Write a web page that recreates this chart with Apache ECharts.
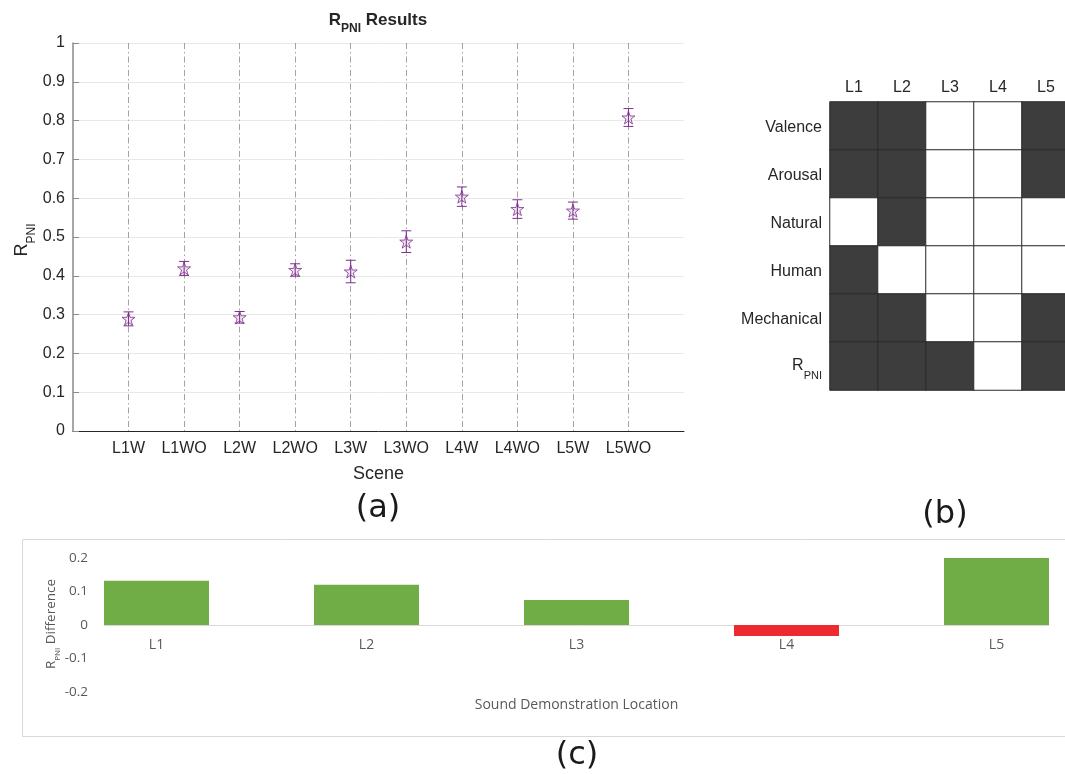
<!DOCTYPE html>
<html>
<head>
<meta charset="utf-8">
<script src="https://cdn.jsdelivr.net/npm/echarts@6/dist/echarts.min.js"></script>
<style>html,body{margin:0;padding:0;background:#fff}#chart{width:1065px;height:774px}</style>
</head>
<body>
<div id="chart"></div>
<script>
// ---- data (a) ----
const scenes = ['L1W','L1WO','L2W','L2WO','L3W','L3WO','L4W','L4WO','L5W','L5WO'];
const rpniMean = [0.289, 0.419, 0.293, 0.415, 0.411, 0.488, 0.604, 0.572, 0.568, 0.808];
const rpniErr  = [0.018, 0.018, 0.015, 0.016, 0.029, 0.028, 0.025, 0.024, 0.022, 0.023];
// ---- data (b) ----
const locations = ['L1','L2','L3','L4','L5'];
const attributes = ['Valence','Arousal','Natural','Human','Mechanical','RPNI'];
const valenceRow    = [1,1,0,0,1];
const arousalRow    = [1,1,0,0,1];
const naturalRow    = [0,1,0,0,0];
const humanRow      = [1,0,0,0,0];
const mechanicalRow = [1,1,0,0,1];
const rpniRow       = [1,1,1,0,1];
// ---- data (c) ----
const rpniDiff = [0.132, 0.12, 0.075, -0.033, 0.2];

const PURPLE = '#7E2F8E';
const FA = 'Liberation Sans';
const FC = 'Open Sans';
const STAR = 'path://M50,2 L61.2,36.5 L97.5,36.5 L68.2,57.9 L79.4,92.4 L50,71 L20.6,92.4 L31.8,57.9 L2.5,36.5 L38.8,36.5 Z';

const matrixRows = [valenceRow, arousalRow, naturalRow, humanRow, mechanicalRow, rpniRow];
const heatData = [];
matrixRows.forEach((row, r) => row.forEach((v, c) => heatData.push([c, r, v])));

const chart = echarts.init(document.getElementById('chart'), null, {renderer: 'canvas'});

const option = {
  backgroundColor: '#ffffff',
  animation: false,
  grid: [
    {left: 73, top: 43, width: 611, height: 388, outerBoundsMode: 'none'},
    {left: 830, top: 102, width: 240, height: 288, outerBoundsMode: 'none'},
    {left: 104, top: 558, width: 945, height: 134, outerBoundsMode: 'none'},
    {left: 104, top: 558, width: 945, height: 67, outerBoundsMode: 'none'}
  ],
  xAxis: [
    {
      type: 'value', gridIndex: 0, min: 0, max: 11, interval: 1,
      axisLine: {show: true, onZero: false, lineStyle: {color: '#262626', width: 1}},
      axisTick: {show: false},
      axisLabel: {fontFamily: FA, fontSize: 16, color: '#262626', margin: 10,
        formatter: v => scenes[v - 1] || ''},
      splitLine: {show: true, showMinLine: false, showMaxLine: false,
        lineStyle: {color: '#a3a3a3', width: 1, type: [6, 3, 1.5, 3]}},
      name: 'Scene', nameLocation: 'middle', nameGap: 34,
      nameTextStyle: {fontFamily: FA, fontSize: 18, color: '#262626'}
    },
    {
      type: 'category', gridIndex: 1, data: locations, position: 'top',
      axisLine: {show: false}, axisTick: {show: false},
      axisLabel: {fontFamily: FA, fontSize: 16, color: '#262626', margin: 6},
      splitLine: {show: false}
    },
    {
      type: 'value', gridIndex: 2, min: 0.75, max: 5.25, show: false,
      axisLine: {show: false, onZero: false}, splitLine: {show: false}
    },
    {
      type: 'value', gridIndex: 3, min: 0.75, max: 5.25,
      axisLine: {show: true, onZero: false, lineStyle: {color: '#d9d9d9', width: 1}},
      axisTick: {show: false},
      axisLabel: {fontFamily: FC, fontSize: 14, color: '#595959', margin: 13,
        customValues: [1, 2, 3, 4, 5], formatter: v => locations[v - 1] || ''},
      splitLine: {show: false},
      name: 'Sound Demonstration Location', nameLocation: 'middle', nameGap: 73,
      nameTextStyle: {fontFamily: FC, fontSize: 14, color: '#595959'}
    }
  ],
  yAxis: [
    {
      type: 'value', gridIndex: 0, min: 0, max: 1, interval: 0.1,
      axisLine: {show: true, lineStyle: {color: '#8a8a8a', width: 1.5}},
      axisTick: {show: true, inside: true, length: 6, lineStyle: {color: '#8a8a8a'}},
      axisLabel: {fontFamily: FA, fontSize: 16, color: '#262626', margin: 8},
      splitLine: {show: true, lineStyle: {color: '#e8e8e8', width: 1}}
    },
    {
      type: 'category', gridIndex: 1, data: attributes, inverse: true,
      axisLine: {show: false}, axisTick: {show: false},
      axisLabel: {margin: 8, fontFamily: FA, fontSize: 16, color: '#262626',
        formatter: v => v === 'RPNI' ? '{r|R}{s|PNI}' : '{t|' + v + '}',
        rich: {
          r: {fontSize: 16, fontFamily: FA, color: '#262626', lineHeight: 30, verticalAlign: 'middle'},
          s: {fontSize: 11, fontFamily: FA, color: '#262626', lineHeight: 11, verticalAlign: 'bottom'},
          t: {fontSize: 16, fontFamily: FA, color: '#262626', padding: [3, 0, 0, 0]}
        }},
      splitLine: {show: false}
    },
    {
      type: 'value', gridIndex: 2, min: -0.2, max: 0.2, interval: 0.1,
      axisLine: {show: false}, axisTick: {show: false},
      axisLabel: {fontFamily: FC, fontSize: 13.5, color: '#595959', margin: 16},
      splitLine: {show: false}
    },
    {
      type: 'value', gridIndex: 3, min: 0, max: 0.2, show: false,
      splitLine: {show: false}
    }
  ],
  visualMap: [{
    type: 'piecewise', show: false, seriesIndex: 2, dimension: 2,
    pieces: [{value: 1, color: '#3d3d3d'}, {value: 0, color: '#ffffff'}]
  }],
  series: [
    {
      type: 'custom', xAxisIndex: 0, yAxisIndex: 0, z: 3,
      encode: {x: 0, y: 1},
      data: scenes.map((s, i) => [i + 1, rpniMean[i], rpniErr[i]]),
      renderItem: (params, api) => {
        const x = api.value(0), m = api.value(1), e = api.value(2);
        const top = api.coord([x, m + e]);
        const bot = api.coord([x, m - e]);
        const w = 5;
        const st = {stroke: PURPLE, lineWidth: 1};
        return {type: 'group', children: [
          {type: 'line', shape: {x1: top[0], y1: top[1], x2: bot[0], y2: bot[1]}, style: st},
          {type: 'line', shape: {x1: top[0] - w, y1: top[1], x2: top[0] + w, y2: top[1]}, style: st},
          {type: 'line', shape: {x1: bot[0] - w, y1: bot[1], x2: bot[0] + w, y2: bot[1]}, style: st}
        ]};
      }
    },
    {
      type: 'scatter', xAxisIndex: 0, yAxisIndex: 0, z: 4,
      symbol: STAR, symbolSize: 13,
      itemStyle: {color: 'rgba(126,47,142,0.15)', borderColor: PURPLE, borderWidth: 1},
      data: scenes.map((s, i) => [i + 1, rpniMean[i]])
    },
    {
      type: 'heatmap', xAxisIndex: 1, yAxisIndex: 1,
      itemStyle: {borderColor: '#2b2b2b', borderWidth: 1},
      emphasis: {disabled: true},
      data: heatData
    },
    {
      type: 'bar', xAxisIndex: 2, yAxisIndex: 2, barWidth: 105,
      data: rpniDiff.map((v, i) => ({value: [i + 1, v],
        itemStyle: {color: v >= 0 ? '#70AD47' : '#EE2A2E'}}))
    }
  ],
  graphic: [
    {type: 'rect', z: -1, shape: {x: 22.5, y: 539.5, width: 1060, height: 197},
      style: {fill: 'none', stroke: '#d9d9d9', lineWidth: 1}},
    {type: 'text', x: 378, y: 20, style: {
      text: '{r|R}{s|PNI}{t| Results}', align: 'center', verticalAlign: 'middle',
      rich: {
        r: {fontSize: 17, fontWeight: 'bold', fontFamily: FA, fill: '#262626', lineHeight: 30, verticalAlign: 'middle'},
        s: {fontSize: 12, fontWeight: 'bold', fontFamily: FA, fill: '#262626', lineHeight: 12, verticalAlign: 'bottom'},
        t: {fontSize: 17, fontWeight: 'bold', fontFamily: FA, fill: '#262626', lineHeight: 30, verticalAlign: 'middle'}
      }}},
    {type: 'text', x: 22, y: 240, rotation: Math.PI / 2, style: {
      text: '{r|R}{s|PNI}', align: 'center', verticalAlign: 'middle',
      rich: {
        r: {fontSize: 18, fontFamily: FA, fill: '#262626', lineHeight: 32, verticalAlign: 'middle'},
        s: {fontSize: 12, fontFamily: FA, fill: '#262626', lineHeight: 12, verticalAlign: 'bottom'}
      }}},
    {type: 'text', x: 51, y: 624, rotation: Math.PI / 2, style: {
      text: '{r|R}{s|PNI}{t| Difference}', align: 'center', verticalAlign: 'middle',
      rich: {
        r: {fontSize: 13.5, fontFamily: FC, fill: '#595959', lineHeight: 22, verticalAlign: 'middle'},
        s: {fontSize: 8, fontFamily: FC, fill: '#595959', lineHeight: 9, verticalAlign: 'bottom'},
        t: {fontSize: 13.5, fontFamily: FC, fill: '#595959', lineHeight: 22, verticalAlign: 'middle'}
      }}},
    {type: 'text', x: 378, y: 509, style: {text: '(a)', font: '32px "DejaVu Sans"', fill: '#1a1a1a', align: 'center', verticalAlign: 'middle'}},
    {type: 'text', x: 945, y: 515, style: {text: '(b)', font: '32px "DejaVu Sans"', fill: '#1a1a1a', align: 'center', verticalAlign: 'middle'}},
    {type: 'text', x: 577, y: 756, style: {text: '(c)', font: '32px "DejaVu Sans"', fill: '#1a1a1a', align: 'center', verticalAlign: 'middle'}}
  ]
};
chart.setOption(option);
</script>
</body>
</html>
